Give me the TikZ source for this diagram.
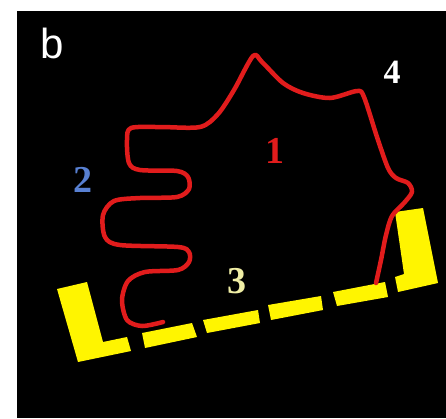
\documentclass[tikz,border=0pt]{standalone}
\usepackage{fontspec}
\setmainfont{Liberation Serif}
\setsansfont{Liberation Sans}
\definecolor{tracered}{RGB}{225,28,28}
\definecolor{baryellow}{RGB}{255,245,0}
\definecolor{numblue}{RGB}{88,128,210}
\definecolor{paleyellow}{RGB}{240,238,165}

\begin{document}
\begin{tikzpicture}[
    x=1pt, y=-1pt,
    trace/.style={draw=tracered, line width=4.5pt, line cap=round, line join=round},
    bar/.style={fill=baryellow},
    num/.style={inner sep=0pt, font=\fontsize{38}{38}\selectfont\bfseries}
]
    % sheet and black panel
    \fill[white] (0,0) rectangle (446,418);
    \fill[black] (17,11) rectangle (446,418);

    % yellow brackets and dashes along the base
    \fill[bar] (57,289) -- (87,282) -- (103,342) -- (127,337) -- (131,351) -- (78,362) -- cycle;
    \fill[bar] (142,333) -- (192,323) -- (197,337) -- (145,348) -- cycle;
    \fill[bar] (203,320) -- (258,310) -- (260,323) -- (207,333) -- cycle;
    \fill[bar] (268,305) -- (321,296) -- (323,310) -- (271,320) -- cycle;
    \fill[bar] (333,292) -- (385,282) -- (388,297) -- (337,306) -- cycle;
    \fill[bar] (395,212) -- (423,208) -- (438,283) -- (398,292) -- (395,277) -- (404,274) -- cycle;

    % red outline with the folds on the left
    \draw[trace] plot[smooth, tension=0.5] coordinates {
        (163,322) (142,326) (127,320) (122,300) (128,281) (145,272) (178,270)
        (189,262) (189,252) (178,247) (120,245) (105,237) (103,215) (114,201)
        (140,198) (177,197) (189,189) (188,177) (177,171) (140,170) (129,163)
        (127,140) (131,128) (160,127) (200,127) (218,114) (234,90) (253,56)
        (262,62) (283,83) (303,93) (330,98) (357,91) (364,97) (377,137)
        (388,168) (396,178) (408,183) (412,192) (404,203) (392,216) (386,235)
        (381,260) (376,283)};

    % labels
    \node[inner sep=0pt, text=white, font=\sffamily\fontsize{42}{42}\selectfont] (panel) at (52,43) {b};
    \node[num, text=tracered] (one) at (275,151) {1};
    \node[num, text=numblue] (two) at (83,180) {2};
    \node[num, text=paleyellow] (three) at (237,281) {3};
    \node[num, text=white, font=\fontsize{34}{34}\selectfont\bfseries] (four) at (392,72) {4};
\end{tikzpicture}
\end{document}
